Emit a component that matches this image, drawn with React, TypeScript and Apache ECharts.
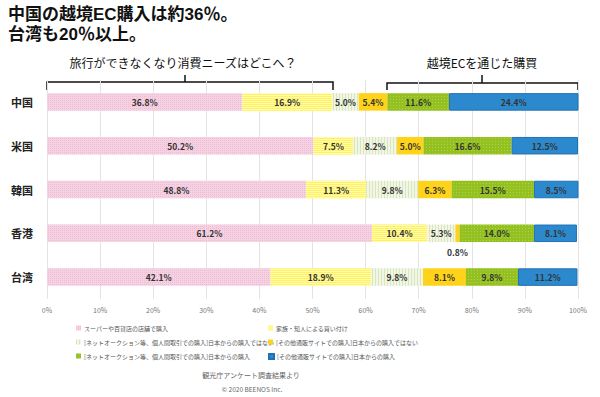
import React, { useEffect, useRef } from "react";
import * as echarts from "echarts";

const categories = ["中国", "米国", "韓国", "香港", "台湾"];
const seriesNames = [
  "スーパーや百貨店の店舗で購入",
  "家族・知人による買い付け",
  "[ネットオークション等、個人間取引での購入]日本からの購入ではない",
  "[その他通販サイトでの購入]日本からの購入ではない",
  "[ネットオークション等、個人間取引での購入]日本からの購入",
  "[その他通販サイトでの購入]日本からの購入",
];
const storeValues = [36.8, 50.2, 48.8, 61.2, 42.1];
const familyValues = [16.9, 7.5, 11.3, 10.4, 18.9];
const auctionNonJpValues = [5.0, 8.2, 9.8, 5.3, 9.8];
const otherNonJpValues = [5.4, 5.0, 6.3, 0.8, 8.1];
const auctionJpValues = [11.6, 16.6, 15.5, 14.0, 9.8];
const otherJpValues = [24.4, 12.5, 8.5, 8.1, 11.2];
const xTicks = [0, 10, 20, 30, 40, 50, 60, 70, 80, 90, 100];

const FONT = '"Noto Sans CJK JP", "Noto Sans", sans-serif';
const TITLE_FONT = '"Liberation Sans", "Noto Sans CJK JP", sans-serif';

const styles = [
  { color: "#f5d2e2", decal: { symbol: "rect", symbolSize: 1, dashArrayX: [1, 1], dashArrayY: [1, 1], color: "rgba(232,165,198,0.5)" } },
  { color: "#fffbb4", decal: { symbol: "rect", symbolSize: 1, dashArrayX: [1, 0], dashArrayY: [1, 1], color: "#fff25a" } },
  { color: "#f2f6e6", decal: { symbol: "rect", symbolSize: 1, dashArrayX: [1, 2], dashArrayY: [1, 0], color: "#d9e5bb" } },
  { color: "#ffd31a", decal: null },
  { color: "#94c11f", decal: { symbol: "rect", symbolSize: 1, dashArrayX: [1, 2], dashArrayY: [1, 2], color: "rgba(185,215,100,0.7)" } },
  { color: "#2d89cd", decal: null, borderColor: "#1f72b4" },
];

const allValues = [storeValues, familyValues, auctionNonJpValues, otherNonJpValues, auctionJpValues, otherJpValues];

export default function App() {
  const ref = useRef<HTMLDivElement>(null);
  useEffect(() => {
    if (!ref.current) return;
    const chart = echarts.init(ref.current, null, { renderer: "svg" });
    const series = allValues.map((vals, si) => ({
      name: seriesNames[si],
      type: "bar",
      stack: "total",
      barWidth: "40%",
      itemStyle: {
        color: styles[si].color,
        decal: styles[si].decal || undefined,
        borderColor: (styles[si] as any).borderColor,
        borderWidth: (styles[si] as any).borderColor ? 1 : 0,
      },
      label: {
        show: true,
        position: "inside",
        formatter: (p: any) => p.value.toFixed(1) + "%",
        fontSize: 8.5,
        fontWeight: "bold",
        color: "#333",
        fontFamily: FONT,
      },
      data: vals.map((v) =>
        v < 2 ? { value: v, label: { position: "bottom", distance: 6 } } : v
      ),
    }));
    const legends = seriesNames.map((n, i) => ({
      data: [n],
      left: i % 2 === 0 ? 71 : 263,
      top: 320 + Math.floor(i / 2) * 14,
      itemWidth: 5,
      itemHeight: 5,
      itemGap: 2,
      icon: "rect",
      selectedMode: false,
      textStyle: { fontSize: 6, color: "#555", fontFamily: FONT, padding: [0, 0, 0, -2] },
    }));
    chart.setOption({
      animation: false,
      textStyle: { fontFamily: FONT },
      legend: legends,
      grid: { left: 47, right: 22, top: 80, bottom: 98 },
      xAxis: {
        type: "value",
        min: 0,
        max: 100,
        interval: 10,
        axisLabel: {
          formatter: (v: number) => (xTicks.includes(v) ? v + "%" : ""),
          fontSize: 7,
          color: "#777",
          margin: 7,
        },
        axisLine: { show: false },
        axisTick: { show: false },
        splitLine: { lineStyle: { color: "#e4e4e4" } },
      },
      yAxis: {
        type: "category",
        data: categories,
        inverse: true,
        axisLine: { show: false },
        axisTick: { show: false },
        axisLabel: { fontSize: 11, fontWeight: "bold", color: "#222", margin: 14 },
      },
      series,
      graphic: [
        { type: "text", x: 8, y: 14, style: { text: "中国の越境EC購入は約36％。", fontSize: 17, fontWeight: "bold", fill: "#111", fontFamily: TITLE_FONT, verticalAlign: "middle" } },
        { type: "text", x: 8, y: 34, style: { text: "台湾も20％以上。", fontSize: 17, fontWeight: "bold", fill: "#111", fontFamily: TITLE_FONT, verticalAlign: "middle" } },
        { type: "text", x: 183, y: 62, style: { text: "旅行ができなくなり消費ニーズはどこへ？", fontSize: 12, fill: "#111", align: "center", verticalAlign: "middle", fontFamily: FONT } },
        { type: "text", x: 482, y: 62, style: { text: "越境ECを通じた購買", fontSize: 12, fill: "#111", align: "center", verticalAlign: "middle", fontFamily: FONT } },
        { type: "polyline", shape: { points: [[47, 90], [47, 82], [333, 82], [333, 90]] }, style: { stroke: "#111", lineWidth: 1.5, fill: "none" } },
        { type: "line", shape: { x1: 185, y1: 82, x2: 185, y2: 75 }, style: { stroke: "#111", lineWidth: 1.5 } },
        { type: "polyline", shape: { points: [[387, 90], [387, 83], [578, 83], [578, 90]] }, style: { stroke: "#111", lineWidth: 1.5, fill: "none" } },
        { type: "line", shape: { x1: 482, y1: 83, x2: 482, y2: 75 }, style: { stroke: "#111", lineWidth: 1.5 } },
        { type: "text", x: 251, y: 375, style: { text: "観光庁アンケート調査結果より", fontSize: 7, fill: "#666", align: "center", verticalAlign: "middle", fontFamily: FONT } },
        { type: "text", x: 252, y: 389, style: { text: "© 2020 BEENOS Inc.", fontSize: 6.5, fill: "#666", align: "center", verticalAlign: "middle", fontFamily: FONT } },
      ],
    });
    return () => chart.dispose();
  }, []);
  return <div ref={ref} style={{ width: 600, height: 397, position: "absolute", left: 0, top: 0, background: "#fff" }} />;
}
